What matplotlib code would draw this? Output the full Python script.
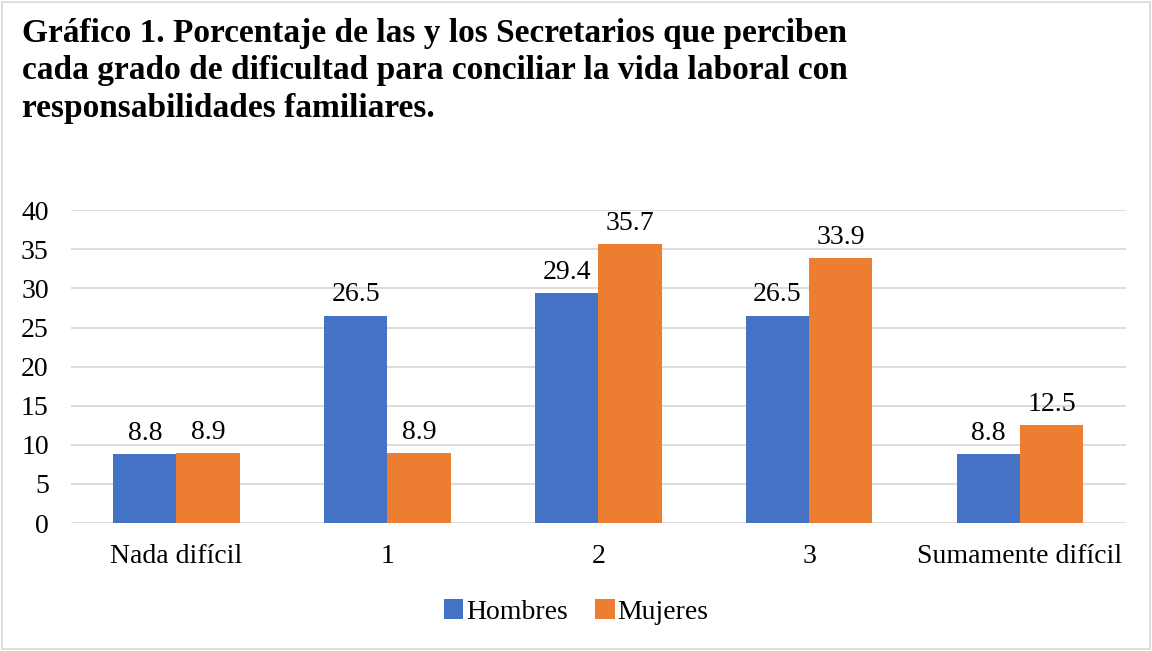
import numpy as np
import matplotlib.pyplot as plt
from matplotlib.patches import Rectangle

categories = ["Nada difícil", "1", "2", "3", "Sumamente difícil"]
hombres = [8.8, 26.5, 29.4, 26.5, 8.8]
mujeres = [8.9, 8.9, 35.7, 33.9, 12.5]
series_names = ["Hombres", "Mujeres"]
title = ("Gráfico 1. Porcentaje de las y los Secretarios que perciben\n"
         "cada grado de dificultad para conciliar la vida laboral con\n"
         "responsabilidades familiares.")

plt.rcParams['font.family'] = ['Liberation Serif', 'DejaVu Serif']

fig = plt.figure(figsize=(11.52, 6.51), dpi=100)
ax = fig.add_axes([0.0616, 0.1966, 0.9154, 0.4804])

x = np.arange(len(categories))
w = 0.3
blue = '#4472C4'
orange = '#ED7D31'
b1 = ax.bar(x - w / 2, hombres, w, color=blue, label=series_names[0], zorder=3)
b2 = ax.bar(x + w / 2, mujeres, w, color=orange, label=series_names[1], zorder=3)

for bars, vals in ((b1, hombres), (b2, mujeres)):
    for rect, v in zip(bars, vals):
        ax.annotate(f"{v:.1f}", (rect.get_x() + rect.get_width() / 2, v),
                    xytext=(0, 6), textcoords='offset points',
                    ha='center', va='bottom', fontsize=20)

ax.set_xlim(-0.5, len(categories) - 0.5)
ax.set_ylim(0, 40)
ax.set_yticks(range(0, 41, 5))
ax.set_xticks(x)
ax.set_xticklabels(categories)
ax.tick_params(axis='both', length=0, labelsize=20)
ax.tick_params(axis='x', pad=15)
ax.tick_params(axis='y', pad=16)
ax.grid(axis='y', color='#D9D9D9', linewidth=1.3, zorder=0)
for s in ax.spines.values():
    s.set_visible(False)

fig.text(0.019, 0.972, title, fontsize=24, fontweight='bold', va='top',
         ha='left', linespacing=1.26)

fig.legend(loc='center', bbox_to_anchor=(0.5, 0.06), ncol=2, frameon=False,
           fontsize=20, handlelength=0.7, handleheight=0.7,
           handletextpad=0.1, columnspacing=1.0)

fig.patches.append(Rectangle((0.002, 0.003), 0.996, 0.994, transform=fig.transFigure,
                             fill=False, edgecolor='#D9D9D9', linewidth=1.2))

fig.savefig('out.png', dpi=100)
